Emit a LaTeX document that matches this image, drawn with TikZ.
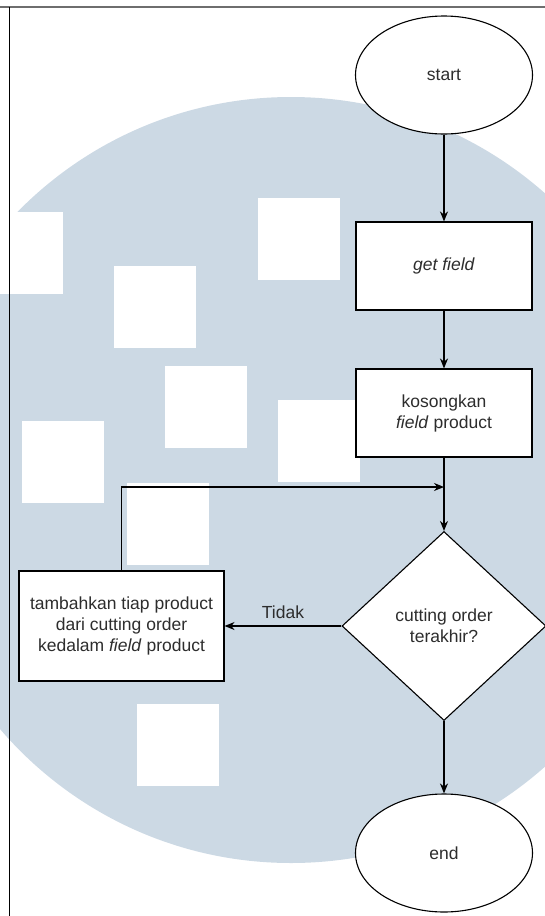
\documentclass[tikz,border=0pt]{standalone}
\usepackage{fontspec}
\setmainfont{Liberation Sans}
\usetikzlibrary{shapes.geometric,arrows.meta,positioning,calc}
\definecolor{markcolor}{RGB}{204,217,228}
\definecolor{framecolor}{RGB}{110,110,110}
\definecolor{textcolor}{RGB}{45,45,45}

\begin{document}
\begin{tikzpicture}[
  x=1pt, y=-1pt,
  >={Stealth[length=10pt,width=8pt]},
  every node/.style={font=\fontsize{17.5}{21}\selectfont, text=textcolor},
  terminal/.style={draw, ellipse, fill=white, line width=1.1pt,
    minimum width=177pt, minimum height=118pt},
  process/.style={draw, fill=white, line width=1.1pt, align=center,
    minimum width=176pt, minimum height=88pt},
  decision/.style={draw, diamond, fill=white, line width=1.1pt, align=center,
    inner sep=0pt, minimum width=204pt, minimum height=189pt},
  flow/.style={->, line width=1.3pt}
]

\useasboundingbox (0,0) rectangle (545,916);

% ---- Watermark (background) ----
\begin{scope}
  \clip (0,0) rectangle (545,916);
  \fill[markcolor] (291,480) circle[radius=383pt];
  \foreach \x/\y in {-19/212,114/266,258/198,165/366,278/400,22/421,127/483,137/704} {
    \fill[white] (\x,\y) rectangle ++(82,82);
  }
\end{scope}

% ---- Page frame ----
\draw[framecolor, line width=2pt] (0,7) -- (545,7);
\draw[black, line width=1.2pt] (9.5,7) -- (9.5,916);

% ---- Nodes ----
\node[terminal] (start) at (444,75) {start};
\node[process] (getfield) at (444,266) {\textit{get field}};
\node[process] (kosong) at (444,413) {kosongkan\\\textit{field} product};
\node[decision] (cek) at (444,626) {cutting order\\terakhir?};
\node[process, minimum width=205pt, minimum height=110pt] (tambah) at (121.5,626)
  {tambahkan tiap product\\dari cutting order\\kedalam \textit{field} product};
\node[terminal] (end) at (444,853) {end};

\coordinate (merge) at (444,487);

% ---- Connectors ----
\draw[flow] (start) -- (getfield);
\draw[flow] (getfield) -- (kosong);
\draw[flow] (kosong) -- (cek);
\draw[flow] (cek) -- node[above=3pt] {Tidak} (tambah);
\draw[flow] (tambah.north) |- (merge);
\draw[flow] (cek) -- (end);

\end{tikzpicture}
\end{document}
